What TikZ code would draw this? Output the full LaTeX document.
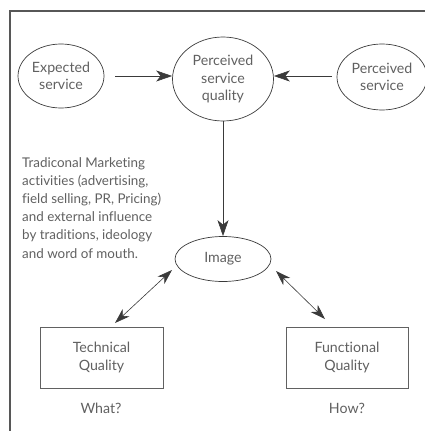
\documentclass[tikz,border=0pt]{standalone}
\usepackage{fontspec}
\setmainfont{Lato}[Ligatures={NoCommon}]
\usetikzlibrary{arrows.meta,shapes.geometric}
\definecolor{ink}{HTML}{606060}
\definecolor{rule}{HTML}{3A3A3A}
\begin{document}
\begin{tikzpicture}[x=1pt,y=-1pt,
  big/.style={font=\fontsize{14.2}{17.5}\selectfont},
  oval/.style={draw=rule,line width=0.7pt,ellipse,inner sep=0pt,text=ink,align=center,big},
  qbox/.style={draw=rule!80,line width=0.7pt,rectangle,inner sep=0pt,text=ink,align=center,big},
  lbl/.style={text=ink,big},
  link/.style={draw=rule,line width=0.6pt,-{Stealth[length=16pt,width=11pt,inset=4.5pt]}},
  twoway/.style={draw=rule,line width=0.6pt,{Stealth[length=15pt,width=10pt,inset=4.5pt]}-{Stealth[length=15pt,width=10pt,inset=4.5pt]}}]
\useasboundingbox (0,0) rectangle (425,431);
% outer frame (top and left edges)
\draw[rule!85,line width=1.2pt] (425,11) -- (10,11) -- (10,431);
% upper row of ellipses
\node[oval,minimum width=86pt,minimum height=64pt] (exp) at (61,76) {Expected\\service};
\node[oval,minimum width=101pt,minimum height=84pt] (psq) at (223,79) {Perceived\\service\\quality};
\node[oval,minimum width=90pt,minimum height=66pt] (per) at (382,77) {Perceived\\service};
% image
\node[oval,minimum width=96pt,minimum height=45pt] (img) at (223,259) {Image};
% quality boxes
\node[qbox,minimum width=123pt,minimum height=61pt] (tech) at (101.5,357.5) {Technical\\Quality};
\node[qbox,minimum width=122pt,minimum height=61pt] (func) at (347,357.5) {Functional\\Quality};
\node[lbl] (what) at (101,408) {What?};
\node[lbl] (how) at (347,408) {How?};
% marketing text
\node[lbl,anchor=north west,align=left,inner sep=0pt,font=\fontsize{13.4}{18.2}\selectfont] (mkt) at (22,157)
  {Tradiconal Marketing\\activities (advertising,\\field selling, PR, Pricing)\\and external influence\\by traditions, ideology\\and word of mouth.};
% connectors
\coordinate (e1) at (115,76);
\coordinate (p1) at (332,76);
\draw[link] (e1) -- (psq.west |- e1);
\draw[link] (p1) -- (psq.east |- p1);
\draw[link] (psq.south) -- (img.north);
\coordinate (tl) at (115,323);
\coordinate (il) at (172,270);
\coordinate (ir) at (276,271);
\coordinate (fr) at (325,319);
\draw[twoway] (tl) -- (il);
\draw[twoway] (ir) -- (fr);
\end{tikzpicture}
\end{document}
